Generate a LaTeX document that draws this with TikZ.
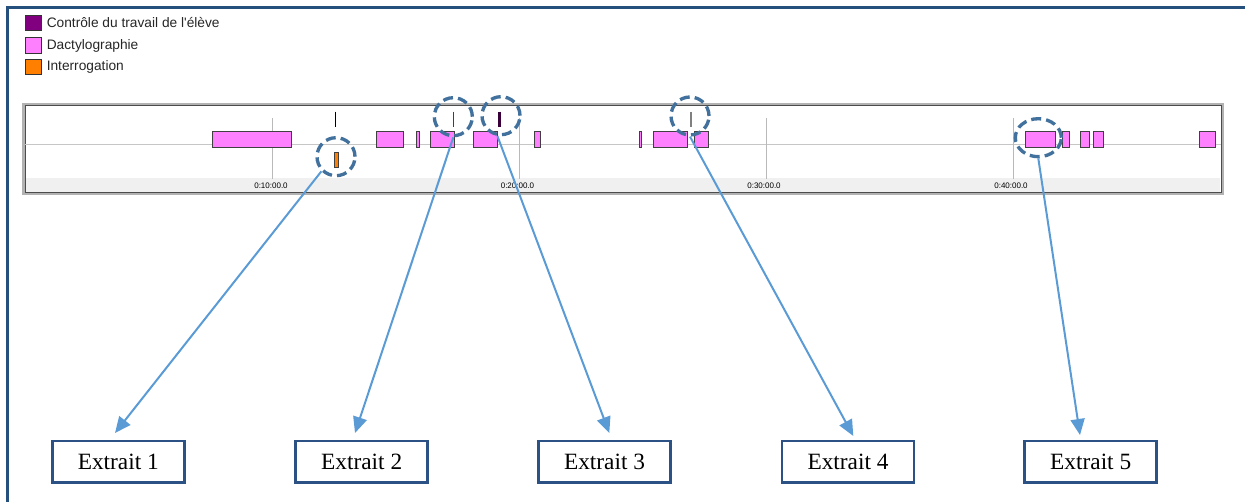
\documentclass[tikz,border=0pt]{standalone}
\usepackage{fontspec}
\setmainfont{Liberation Serif}
\newfontfamily\legfont{Liberation Sans}
\usetikzlibrary{arrows.meta,shapes.geometric}
\definecolor{frameblue}{HTML}{25507E}
\definecolor{boxblue}{HTML}{2B5185}
\definecolor{arrowblue}{HTML}{5B9BD5}
\definecolor{circblue}{HTML}{41719C}
\definecolor{dactyl}{HTML}{FF80FF}
\definecolor{interro}{HTML}{FF8000}
\definecolor{ctrl}{HTML}{800080}
\definecolor{stripgray}{HTML}{F0F0F0}
\begin{document}
\begin{tikzpicture}[x=0.75pt,y=-0.75pt,
  extrait/.style={draw=boxblue, line width=2pt, fill=white, minimum width=99pt, minimum height=31pt, inner sep=0pt, font=\fontsize{17.5}{20}\selectfont},
  dashcirc/.style={circle, draw=circblue, line width=2.5pt, dash pattern=on 7.5pt off 3.8pt, minimum size=28.5pt, inner sep=0pt},
  dashell/.style={ellipse, draw=circblue, line width=2.5pt, dash pattern=on 7.5pt off 3.8pt, minimum width=34.5pt, minimum height=28.5pt, inner sep=0pt},
  link/.style={draw=arrowblue, line width=1.5pt, -{Triangle[length=12pt,width=10.5pt]}},
  seg/.style={draw=black!75, line width=0.6pt, fill=dactyl},
  legsq/.style={draw=black!80, line width=0.6pt, minimum width=12pt, minimum height=11.5pt, inner sep=0pt},
  legtxt/.style={anchor=west, inner sep=0pt, text=black!85, font=\legfont\fontsize{10.3}{12}\selectfont},
  timelab/.style={inner sep=0pt, text=black, font=\legfont\fontsize{6}{7}\selectfont},
  gridl/.style={draw=gray!55, line width=0.6pt}
]
\useasboundingbox (0,0) rectangle (1245,502);
% outer frame (top and left)
\draw[frameblue, line width=1.9pt] (7.5,502) -- (7.5,7.5) -- (1245,7.5);

% legend
\node[legsq, fill=ctrl] (lq1) at (33.5,23) {};
\node[legtxt] (lt1) at (46.5,23) {Contrôle du travail de l'élève};
\node[legsq, fill=dactyl] (lq2) at (33.5,45.5) {};
\node[legtxt] (lt2) at (46.5,45.5) {Dactylographie};
\node[legsq, fill=interro] (lq3) at (33.5,67) {};
\node[legtxt] (lt3) at (46.5,67) {Interrogation};

% timeline panel
\fill[stripgray] (26,178) rectangle (1220,192);
\draw[gray!60, line width=1.6pt] (23.5,104) rectangle (1222.5,193.5);
\draw[black!70, line width=0.6pt] (25,105.5) rectangle (1221,192);
\draw[gray!45, line width=0.6pt] (25,144) -- (1221,144);
\draw[gridl] (272.7,118) -- (272.7,179);
\draw[gridl] (519.3,118) -- (519.3,179);
\draw[gridl] (766,118) -- (766,179);
\draw[gridl] (1013.3,118) -- (1013.3,179);
\node[timelab] (tl1) at (271,186) {0:10:00.0};
\node[timelab] (tl2) at (517.5,186) {0:20:00.0};
\node[timelab] (tl3) at (764,186) {0:30:00.0};
\node[timelab] (tl4) at (1011,186) {0:40:00.0};

% segments
\foreach \a/\b in {212.7/291.7, 376/403.3, 416.3/419.7, 430.3/454.3, 473.3/497.3, 534.7/540.3, 639.3/641.7, 653.3/687.3, 694/708.7, 1025.7/1055.7, 1062.3/1069.7, 1080.3/1089, 1093.3/1103.3, 1199.3/1215.7}
  \draw[seg] (\a,131.7) rectangle (\b,147.3);
\draw[draw=black!75, line width=0.6pt, fill=interro] (334.3,152.3) rectangle (338.3,167.3);

% event ticks
\draw[black, line width=1.1pt] (335.7,111.7) -- (335.7,127.3);
\draw[black!75, line width=0.8pt] (453.7,111.7) -- (453.7,127.3);
\draw[ctrl!45!black, line width=1.6pt] (499.5,111.7) -- (499.5,127.3);
\draw[gray, line width=0.8pt] (691,111.7) -- (691,127.3);

% dashed highlights
\node[dashcirc] (c1) at (336,156.7) {};
\node[dashcirc] (c2) at (453.3,116.7) {};
\node[dashcirc] (c3) at (501,115.7) {};
\node[dashcirc] (c4) at (690,116) {};
\node[dashell] (c5) at (1038.3,137.7) {};

% extract boxes
\node[extrait] (b1) at (118.3,461.5) {Extrait 1};
\node[extrait] (b2) at (361.7,461.5) {Extrait 2};
\node[extrait] (b3) at (604.5,461.5) {Extrait 3};
\node[extrait] (b4) at (848,461.5) {Extrait 4};
\node[extrait] (b5) at (1090.7,461.5) {Extrait 5};

% arrow tips
\coordinate (t1) at (115,433);
\coordinate (t2) at (355,433);
\coordinate (t3) at (609.3,433);
\coordinate (t4) at (853.3,436);
\coordinate (t5) at (1080,435);

\draw[link] (c1.225) -- (t1);
\draw[link] (c2.south) -- (t2);
\draw[link] (c3.260) -- (t3);
\draw[link] (c4.south) -- (t4);
\draw[link] (c5.south) -- (t5);
\end{tikzpicture}
\end{document}
